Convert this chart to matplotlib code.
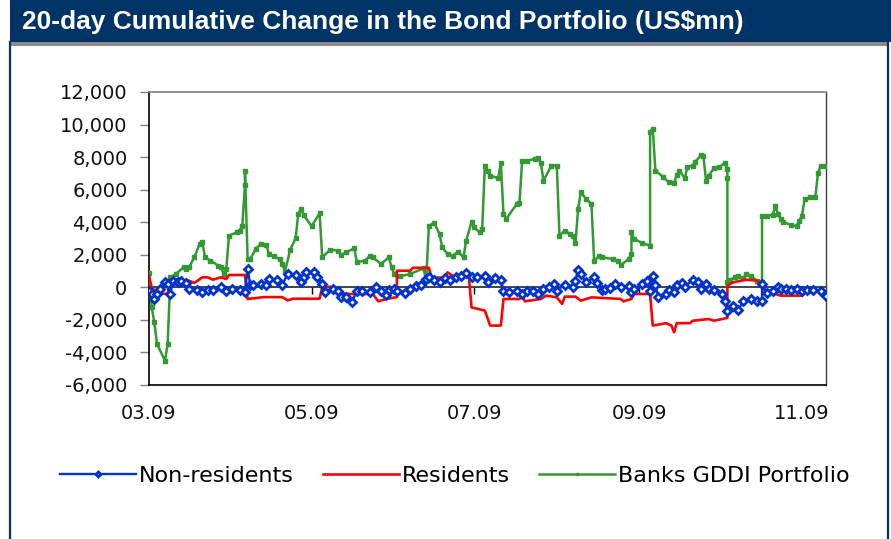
import pandas as pd
import matplotlib
matplotlib.use('Agg')
import matplotlib.pyplot as plt
import matplotlib.dates as mdates
from matplotlib.ticker import FuncFormatter
from matplotlib.lines import Line2D
from matplotlib.patches import Rectangle

# day offsets from 1 March 2009 and 20-day cumulative flows (US$mn)
start = pd.Timestamp('2009-03-01')

nonres_day = [0, 1, 2, 3, 4, 6, 7, 8, 9, 11, 12, 14, 15, 18, 20, 22, 24, 27, 29, 31,
              34, 36, 37, 38, 39, 42, 44, 45, 48, 50, 52, 55, 57, 58, 59, 62, 63, 65, 66, 69,
              71, 72, 74, 76, 78, 80, 83, 85, 87, 89, 90, 92, 93, 96, 98, 100, 102, 104, 105, 107,
              109, 111, 113, 115, 117, 119, 121, 123, 126, 127, 130, 132, 133, 135, 138, 140, 142, 144, 146, 148,
              150, 152, 153, 156, 159, 160, 161, 162, 164, 167, 168, 170, 171, 173, 175, 177, 180, 181, 182, 185,
              187, 188, 189, 190, 191, 194, 195, 197, 198, 200, 201, 204, 206, 207, 209, 210, 212, 215, 216, 217,
              219, 221, 223, 226, 228, 230, 230, 232, 234, 236, 237, 239, 241, 243, 245, 247, 249, 252, 254]
nonres_val = [-245, -410, -715, -410, -100, 300, 200, -410, 410, 300, 410, 245, -100, -165, -300, -165, -165, 40, -245, -100,
              -165, -300, 1125, 165, 165, 200, 165, 510, 450, 165, 820, 780, 300, 615, 920, 920, 615, 200, -300, -100,
              -245, -570, -615, -920, -245, -200, -300, 40, -200, -500, -165, -100, -200, -370, -100, 100, 165, 510, 615, 450,
              300, 570, 450, 615, 715, 860, 615, 615, 715, 300, 570, 450, -245, -300, -245, -410, -245, -200, -410, -100,
              40, 200, -200, 165, 40, 410, 1065, 820, 300, 615, 245, -165, -100, -40, 200, 0, 100, -300, -100, 200,
              410, -245, 715, 165, -570, -410, -165, -300, 165, 245, 40, 450, 300, -100, 200, -100, -165, -410, -820, -1475,
              -1125, -1390, -860, -715, -860, -860, 200, -370, -245, 40, -100, -100, -165, -100, -245, -165, -165, -245, -510]

res_day = [0, 1, 3, 7, 8, 12, 15, 17, 20, 22, 24, 27, 29, 30, 36, 37, 43, 50, 52, 54,
           64, 65, 68, 72, 74, 84, 86, 89, 93, 93, 98, 99, 105, 106, 111, 112, 114, 120, 121, 126,
           128, 132, 133, 139, 140, 141, 147, 149, 153, 155, 156, 160, 162, 166, 177, 178, 181, 182, 188, 189,
           194, 196, 197, 198, 203, 204, 210, 212, 217, 217, 219, 224, 228, 230, 231, 237, 245, 246, 250, 254]
res_val = [715, 0, -350, -410, 470, 470, 410, 265, 615, 615, 470, 615, 510, 760, 760, -720, -600, -600, -800, -700,
           -700, 0, 40, -300, -410, -410, -860, -715, -600, 1020, 1020, 1200, 1200, 600, 600, 920, 700, 700, -1230, -1430,
           -2350, -2350, -715, -715, -410, -860, -715, -510, -615, -1020, -570, -570, -820, -615, -715, -860, -715, -410, -410, -2350,
           -2200, -2350, -2760, -2200, -2200, -2050, -1950, -2050, -1880, 100, 300, 470, 410, 200, -200, -510, -510, -165, -200, -410]

banks_day = [0, 1, 2, 3, 6, 7, 8, 10, 13, 14, 15, 17, 19, 20, 21, 23, 26, 27, 28, 29,
             30, 33, 34, 35, 36, 36, 37, 38, 40, 42, 44, 45, 47, 49, 50, 51, 53, 55, 56, 57,
             58, 61, 64, 65, 68, 71, 72, 74, 77, 78, 81, 83, 84, 87, 90, 91, 92, 94, 98, 103,
             104, 105, 107, 109, 110, 112, 114, 116, 118, 119, 121, 122, 124, 125, 126, 127, 128, 131, 132, 133,
             134, 138, 139, 140, 142, 145, 146, 147, 148, 151, 153, 154, 156, 158, 159, 160, 161, 162, 164, 166,
             167, 169, 170, 174, 176, 177, 180, 181, 181, 182, 185, 188, 188, 189, 190, 193, 195, 197, 198, 199,
             201, 202, 204, 205, 207, 208, 209, 210, 212, 214, 216, 217, 217, 217, 218, 220, 221, 223, 224, 226,
             228, 230, 230, 232, 234, 235, 236, 237, 238, 241, 243, 244, 245, 246, 248, 250, 251, 252, 254]
banks_val = [880, -1230, -2150, -3480, -4510, -3480, 615, 820, 1230, 1130, 1230, 1845, 2665, 2810, 1845, 1640, 1330, 1230, 820, 1130,
             3180, 3380, 3485, 3790, 6290, 7175, 1740, 1740, 2360, 2665, 2600, 2050, 1905, 1740, 1435, 965, 2315, 3010, 4510, 4820,
             4450, 3750, 4550, 1845, 2315, 2255, 1990, 2150, 2400, 1540, 1640, 1950, 1845, 1435, 1845, 1230, 820, 675, 820, 1170,
             410, 3790, 3955, 3280, 2460, 2050, 1950, 2190, 1845, 2870, 4000, 3690, 3380, 3590, 7480, 7175, 6870, 6700, 7650, 4510,
             4200, 5125, 5185, 7790, 7790, 7890, 7935, 7650, 6560, 7480, 7480, 3180, 3485, 3280, 3180, 2725, 4820, 5840, 5430, 5125,
             1640, 1950, 1845, 1740, 1640, 1370, 1740, 2050, 3380, 2970, 2725, 2560, 9570, 9735, 7175, 6765, 6460, 6415, 6910, 7175,
             6700, 7380, 7480, 7730, 8100, 8055, 6560, 6870, 7320, 7380, 7650, 7280, 6700, 310, 470, 615, 675, 555, 820, 675,
             410, 310, 4410, 4410, 4450, 4980, 4510, 4200, 4000, 3830, 3750, 4100, 4410, 5430, 5535, 5575, 7030, 7480, 7480]

x_end = 254
month_ticks = [3, 5, 7, 9, 11]

navy = '#003366'
blue = '#0033cc'
red = '#ff0000'
green = '#339933'


def to_dates(days):
    return start + pd.to_timedelta(days, unit='D')


W, H = 891, 539
fig = plt.figure(figsize=(W / 100, H / 100), dpi=100, facecolor='white')

# header bar, grey rule and panel frame
fig.patches.append(Rectangle((10 / W, 1 - 42 / H), 881 / W, 42 / H, transform=fig.transFigure,
                             facecolor=navy, edgecolor='none'))
fig.patches.append(Rectangle((10 / W, 1 - 46 / H), 879 / W, 4 / H, transform=fig.transFigure,
                             facecolor='#8c8c8c', edgecolor='none'))
fig.lines.append(Line2D([10 / W, 10 / W], [0, 1 - 42 / H], transform=fig.transFigure, color=navy, lw=1.6))
fig.lines.append(Line2D([888 / W, 888 / W], [0, 1 - 42 / H], transform=fig.transFigure, color=navy, lw=1.6))
fig.text(22 / W, 1 - 22 / H, '20-day Cumulative Change in the Bond Portfolio (US$mn)',
         family=['Liberation Sans Narrow', 'Liberation Sans'], fontweight='bold', fontsize=19,
         color='white', ha='left', va='center')

ax = fig.add_axes([149 / W, 1 - 385 / H, 677 / W, 293 / H])

ax.plot(to_dates(banks_day), banks_val, color=green, lw=1.8, marker='s', ms=3.4,
        mfc=green, mec=green, label='Banks GDDI Portfolio', zorder=3)
ax.plot(to_dates(res_day), res_val, color=red, lw=1.9, label='Residents', zorder=4)
ax.plot(to_dates(nonres_day), nonres_val, color=blue, lw=1.7, marker='D', ms=4.2,
        mfc='white', mec=blue, mew=2.0, label='Non-residents', zorder=5)

ax.set_ylim(-6000, 12000)
ax.set_yticks(range(-6000, 12001, 2000))
ax.yaxis.set_major_formatter(FuncFormatter(lambda v, p: format(int(v), ',')))
ax.set_xlim(to_dates([0])[0], to_dates([x_end])[0])
ax.xaxis.set_major_locator(mdates.MonthLocator(bymonth=month_ticks))
ax.xaxis.set_major_formatter(mdates.DateFormatter('%m.%y'))

for s in ['left', 'bottom']:
    ax.spines[s].set_color('black')
    ax.spines[s].set_linewidth(1.2)
ax.spines['top'].set_color('#808080')
ax.spines['top'].set_linewidth(1.2)
ax.spines['right'].set_color('#404040')
ax.spines['right'].set_linewidth(1.0)

ax.tick_params(axis='y', direction='out', length=6.5, width=1, color='#808080',
               labelsize=14, pad=9, labelcolor='#111111')
ax.tick_params(axis='x', length=0, labelsize=14, pad=14, labelcolor='#111111')
for lbl in ax.get_xticklabels() + ax.get_yticklabels():
    lbl.set_family('DejaVu Sans')

# x axis crosses at zero in the original layout
zero_axis = ax.secondary_xaxis(6000 / 18000)
zero_axis.xaxis.set_major_locator(mdates.MonthLocator(bymonth=month_ticks))
zero_axis.tick_params(axis='x', direction='out', length=5, width=1, color='black', labelbottom=False)
zero_axis.spines['bottom'].set_color('#222222')
zero_axis.spines['bottom'].set_linewidth(1.2)

handles, labels = ax.get_legend_handles_labels()
order = [2, 1, 0]
fig.legend([handles[i] for i in order], [labels[i] for i in order], loc='center',
           bbox_to_anchor=(455 / W, 1 - 476 / H), ncol=3, frameon=False,
           prop={'family': 'DejaVu Sans', 'size': 16}, handlelength=3.4,
           handletextpad=0.15, columnspacing=1.3, markerscale=0.6)

fig.savefig('out.png', dpi=100, facecolor='white')
